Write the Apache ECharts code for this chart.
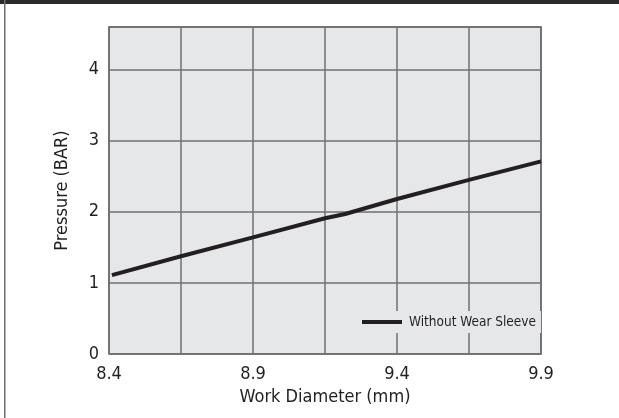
<!DOCTYPE html>
<html>
<head>
<meta charset="utf-8">
<script src="https://cdn.jsdelivr.net/npm/echarts@6/dist/echarts.min.js"></script>
<style>
  html, body { margin: 0; padding: 0; background: #fff; }
  #chart { width: 619px; height: 418px; }
</style>
</head>
<body>
<div id="chart"></div>
<script>
// Work diameter (mm) against required pressure (BAR)
const diameters = [8.41, 8.65, 8.9, 9.15, 9.22, 9.4, 9.65, 9.9];
const pressures = [1.11, 1.375, 1.64, 1.91, 1.97, 2.18, 2.45, 2.71];
const seriesName = 'Without Wear Sleeve';
const xTickLabels = ['8.4', '', '8.9', '', '9.4', '', '9.9'];
const yTickLabels = ['0', '1', '2', '3', '4'];

const FONT = "'DejaVu Sans Condensed', 'Liberation Sans Narrow', 'Arial Narrow', sans-serif";
const TEXT = '#231f20';
const GRID_LINE = '#6f7073';

const chart = echarts.init(document.getElementById('chart'), null, { renderer: 'canvas' });

chart.setOption({
  animation: false,
  backgroundColor: '#ffffff',
  graphic: [
    { type: 'rect', shape: { x: 0, y: 0, width: 619, height: 4 }, style: { fill: '#2b2b2b' }, z: 10 },
    { type: 'rect', shape: { x: 4, y: 0, width: 1.5, height: 418 }, style: { fill: '#6d6e71' }, z: 10 }
  ],
  grid: {
    left: 109, right: 78, top: 27, bottom: 64,
    show: true,
    backgroundColor: '#e6e7e8',
    borderColor: '#58595b',
    borderWidth: 1.5
  },
  legend: {
    left: 357, top: 311,
    padding: [4, 5, 4, 5],
    backgroundColor: '#e6e7e8',
    itemWidth: 40, itemHeight: 4,
    itemGap: 0,
    icon: 'rect',
    data: [{ name: seriesName, itemStyle: { color: '#231f20' } }],
    textStyle: { fontFamily: FONT, fontSize: 13.5, color: TEXT, padding: [0, 0, 0, 2] }
  },
  xAxis: [
    {
      // grid cells and tick labels
      type: 'value', min: 0, max: 6, interval: 1,
      name: 'Work Diameter (mm)', nameLocation: 'middle', nameGap: 32,
      nameTextStyle: { fontFamily: FONT, fontSize: 18, color: TEXT },
      axisLine: { show: false }, axisTick: { show: false },
      axisLabel: {
        margin: 11, fontFamily: FONT, fontSize: 18, color: TEXT,
        formatter: v => xTickLabels[v] || ''
      },
      splitLine: { show: true, lineStyle: { color: GRID_LINE, width: 1.5 } }
    },
    {
      // data scale in millimetres
      type: 'value', min: 8.4, max: 9.9, show: false,
      splitLine: { show: false }
    }
  ],
  yAxis: {
    type: 'value', min: 0, max: 4.6, interval: 1,
    name: 'Pressure (BAR)', nameLocation: 'middle', nameGap: 38,
    nameTextStyle: { fontFamily: FONT, fontSize: 18, color: TEXT },
    axisLine: { show: false }, axisTick: { show: false },
    axisLabel: {
      margin: 10, fontFamily: FONT, fontSize: 18, color: TEXT,
      showMaxLabel: false,
      formatter: v => (Number.isInteger(v) && yTickLabels[v] !== undefined) ? yTickLabels[v] : ''
    },
    splitLine: { show: true, lineStyle: { color: GRID_LINE, width: 1.5 } }
  },
  series: [{
    name: seriesName,
    type: 'line',
    xAxisIndex: 1,
    data: diameters.map((d, i) => [d, pressures[i]]),
    symbol: 'none',
    lineStyle: { color: '#231f20', width: 4 },
    itemStyle: { color: '#231f20' }
  }]
});
</script>
</body>
</html>
